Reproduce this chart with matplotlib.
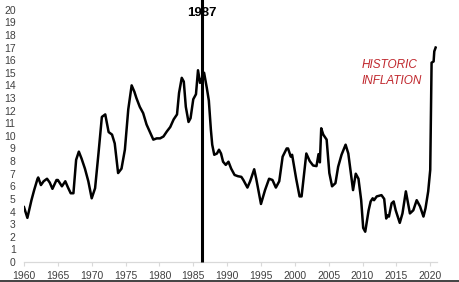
import matplotlib
matplotlib.use("Agg")
import matplotlib.pyplot as plt
from matplotlib.lines import Line2D

years = [1960.0, 1960.5, 1961.1, 1961.5, 1962.0, 1962.1, 1962.5, 1962.9, 1963.4, 1963.8,
         1964.2, 1964.8, 1965.0, 1965.6, 1966.1, 1966.5, 1966.9, 1967.3, 1967.7, 1968.1,
         1968.5, 1969.0, 1969.5, 1970.0, 1970.5, 1971.0, 1971.5, 1972.0, 1972.5, 1973.0,
         1973.4, 1973.9, 1974.4, 1974.9, 1975.4, 1975.9, 1976.3, 1976.6, 1977.1, 1977.6,
         1978.1, 1978.6, 1979.1, 1979.6, 1980.1, 1980.6, 1981.1, 1981.6, 1982.1, 1982.6,
         1982.9, 1983.3, 1983.6, 1983.9, 1984.3, 1984.6, 1985.0, 1985.4, 1985.7, 1986.0,
         1986.3, 1986.6, 1987.0, 1987.3, 1987.6, 1987.8, 1988.1, 1988.5, 1988.8, 1989.1,
         1989.4, 1989.8, 1990.2, 1990.6, 1991.1, 1991.6, 1992.1, 1992.4, 1993.0, 1993.4,
         1994.0, 1994.3, 1995.0, 1995.6, 1996.2, 1996.7, 1997.2, 1997.7, 1998.2, 1998.8,
         1999.0, 1999.4, 1999.6, 2000.2, 2000.7, 2001.0, 2001.7, 2002.2, 2002.7, 2003.2,
         2003.5, 2003.7, 2003.9, 2004.2, 2004.7, 2005.1, 2005.5, 2006.0, 2006.4, 2006.9,
         2007.5, 2007.9, 2008.4, 2008.6, 2009.0, 2009.4, 2009.8, 2010.1, 2010.4, 2010.9,
         2011.2, 2011.5, 2011.7, 2012.1, 2012.8, 2013.2, 2013.5, 2013.7, 2013.9, 2014.3,
         2014.6, 2014.9, 2015.5, 2015.9, 2016.4, 2017.0, 2017.5, 2018.0, 2018.5, 2019.0,
         2019.3, 2019.7, 2020.0, 2020.2, 2020.5, 2020.6, 2020.8]
values = [4.35, 3.5, 4.9, 5.7, 6.6, 6.7, 6.1, 6.4, 6.6, 6.3,
          5.8, 6.5, 6.5, 6.0, 6.4, 5.9, 5.45, 5.45, 8.1, 8.75,
          8.2, 7.4, 6.4, 5.05, 5.85, 8.6, 11.5, 11.7, 10.3, 10.1,
          9.4, 7.05, 7.4, 8.9, 12.1, 14.0, 13.5, 13.0, 12.3, 11.8,
          10.9, 10.3, 9.7, 9.8, 9.8, 9.95, 10.35, 10.7, 11.3, 11.7,
          13.4, 14.6, 14.3, 12.3, 11.1, 11.4, 12.9, 13.3, 15.2, 14.2,
          14.6, 15.0, 13.8, 12.8, 10.5, 9.3, 8.5, 8.6, 8.9, 8.6,
          7.95, 7.7, 7.95, 7.4, 6.9, 6.8, 6.75, 6.5, 5.9, 6.4,
          7.35, 6.6, 4.6, 5.7, 6.6, 6.5, 5.9, 6.4, 8.35, 9.0,
          9.0, 8.35, 8.5, 6.6, 5.2, 5.2, 8.6, 8.0, 7.65, 7.6,
          8.55, 7.9, 10.6, 10.1, 9.7, 7.05, 6.0, 6.25, 7.55, 8.5,
          9.3, 8.6, 6.5, 5.7, 7.0, 6.6, 4.9, 2.7, 2.4, 4.1,
          4.8, 5.05, 4.9, 5.2, 5.3, 5.0, 3.45, 3.7, 3.6, 4.65,
          4.8, 4.1, 3.1, 3.85, 5.6, 3.85, 4.1, 4.9, 4.4, 3.6,
          4.25, 5.6, 7.3, 15.8, 15.9, 16.7, 17.0]

marker_year = 1986.3
marker_label = "1987"
note_text = "HISTORIC\nINFLATION"
x_ticks = list(range(1960, 2021, 5))
y_ticks = list(range(0, 21))

fig = plt.figure(figsize=(4.6, 2.82), dpi=100)
ax = fig.add_axes([24 / 460, 20 / 282, (437 - 24) / 460, (262 - 9.7) / 282])

ax.plot(years, values, color="black", lw=1.8, solid_joinstyle="round", zorder=3)

ax.set_xlim(1960, 2021)
ax.set_ylim(0, 20)
ax.set_xticks(x_ticks)
ax.set_yticks(y_ticks)

for s in ["top", "right", "left"]:
    ax.spines[s].set_visible(False)
ax.spines["bottom"].set_color("#d9d9d9")
ax.spines["bottom"].set_linewidth(0.9)

ax.tick_params(axis="x", length=3, width=0.8, color="#d9d9d9", pad=3.5,
               labelsize=7.5, labelcolor="#404040")
ax.tick_params(axis="y", length=0, pad=6, labelsize=7.5, labelcolor="#404040")
for lab in ax.get_xticklabels() + ax.get_yticklabels():
    lab.set_fontfamily("Liberation Sans")

# label behind the vertical line
ax.text(marker_year, 19.75, marker_label, ha="center", va="center",
        fontsize=9.5, fontweight="bold", family="Liberation Sans",
        color="black", zorder=2)
ax.plot([marker_year, marker_year], [0, 20.85], color="black", lw=2.2,
        clip_on=False, zorder=4, solid_capstyle="butt")

ax.text(2009.8, 15.0, note_text, ha="left", va="center", fontsize=8.5,
        style="italic", family="Liberation Sans", color="#c0272d",
        linespacing=1.5, zorder=2)

# bottom image border
fig.add_artist(Line2D([0, 1], [0.6 / 282, 0.6 / 282], transform=fig.transFigure,
                      color="#222222", lw=1.2))

fig.savefig("out.png", dpi=100)
